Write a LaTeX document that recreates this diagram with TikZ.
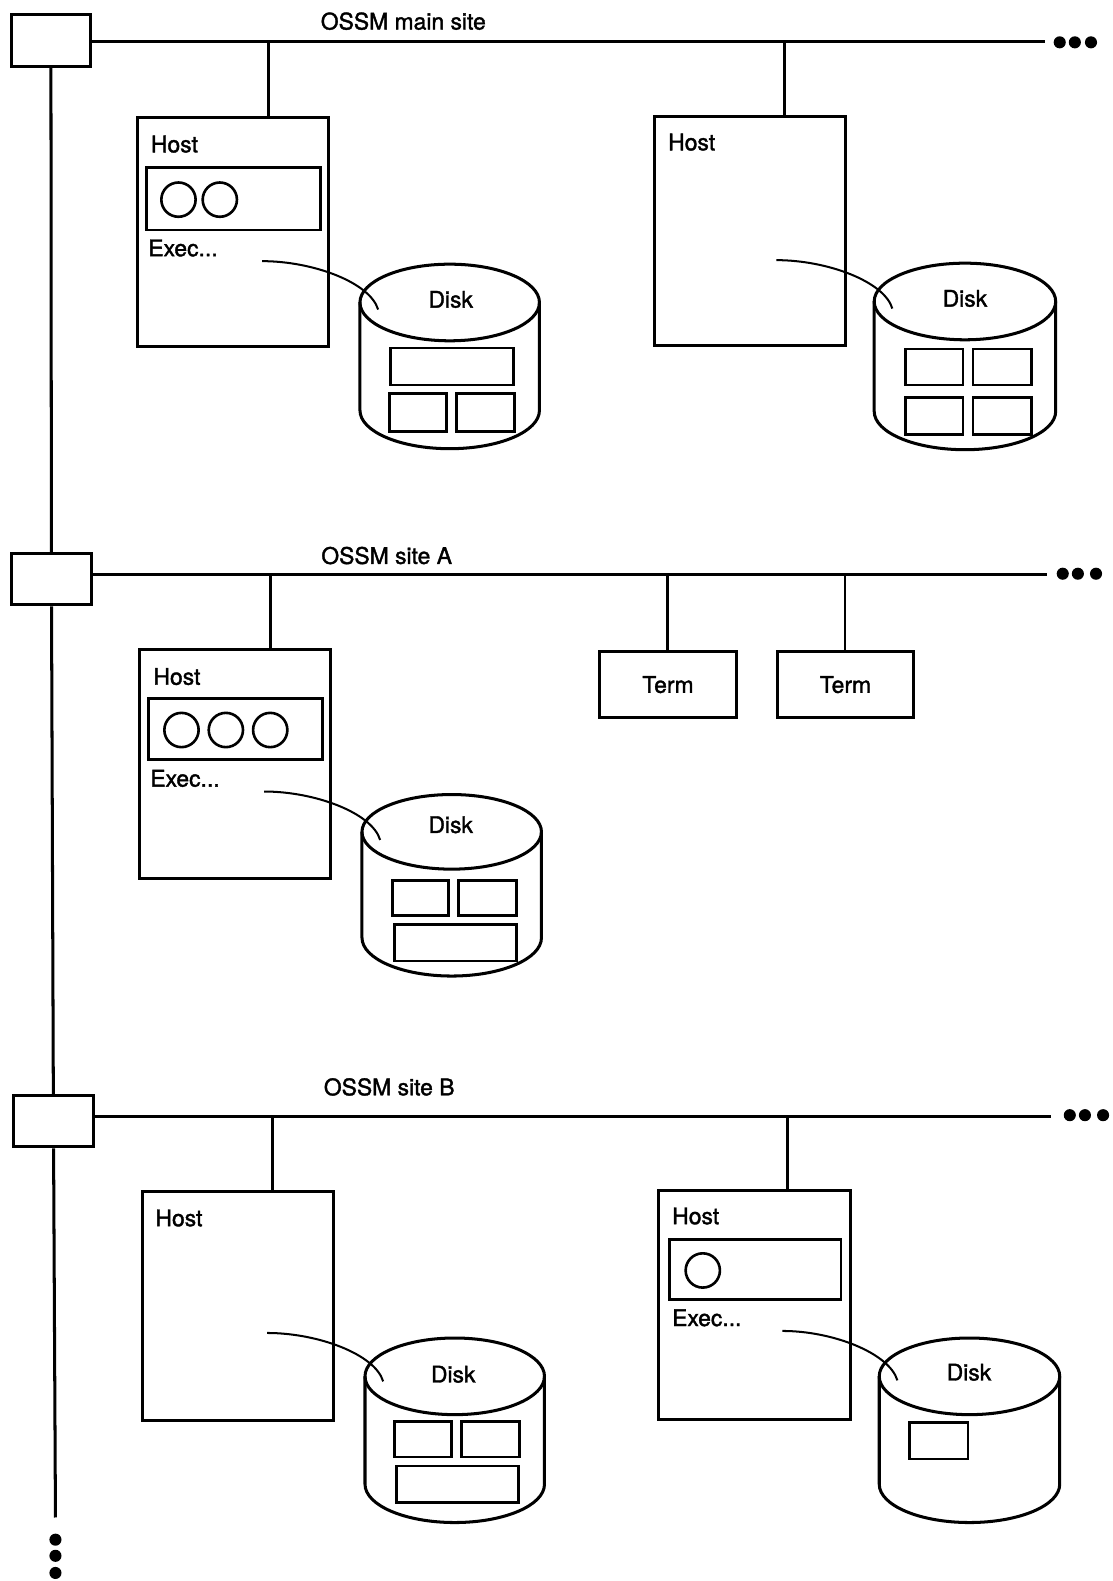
\documentclass[tikz,border=0pt]{standalone}
\usepackage{fontspec}
\setmainfont{TeX Gyre Heros}
\newfontfamily\lblfont{TeX Gyre Heros}[FakeBold=1.6]

\begin{document}
\begin{tikzpicture}[
    x=1pt, y=-1pt,
    lbl/.style={inner sep=0, font=\lblfont\fontsize{22.7}{27}\selectfont},
    junc/.style={draw, line width=3pt, minimum width=79pt, minimum height=51pt, inner sep=0},
    host/.style={draw, line width=3pt, minimum width=190pt, minimum height=227pt, inner sep=0},
    term/.style={draw, line width=3pt, minimum width=135pt, minimum height=66pt, inner sep=0, font=\lblfont\fontsize{22.7}{27}\selectfont},
    disk/.style={line width=3pt},
    dot/.style={circle, fill, inner sep=0, minimum size=12pt},
    bus/.style={line width=3pt},
    tap/.style={line width=2.6pt},
    link/.style={line width=2pt},
    part/.style={line width=2.6pt}
]
\useasboundingbox (0,0) rectangle (1103,1568);

% junction boxes and backbone
\node[junc] (jmain) at (50.5,40) {};
\node[junc] (jsiteA) at (51,574.5) {};
\node[junc] (jsiteB) at (53,1112) {};
\coordinate (bbend) at (55,1505);
\draw[bus] (jmain) -- (jsiteA);
\draw[bus] (jsiteA) -- (jsiteB);
\draw[bus] (jsiteB) -- (bbend);
\node[dot] (bbdot1) at (55,1527) {};
\node[dot] (bbdot2) at (55,1543) {};
\node[dot] (bbdot3) at (55,1560) {};

% OSSM main site
\node[lbl] (mainlbl) at (400,21) {OSSM main site};
\coordinate (busmain) at (1036,41);
\draw[bus] (busmain -| jmain.east) -- (busmain);
\node[dot] (mdot1) at (1051,42) {};
\node[dot] (mdot2) at (1066,42) {};
\node[dot] (mdot3) at (1082,42) {};

\node[host] (host1) at (231,230) {};
\node[lbl] (host1lbl) at (173,143) {Host};
\draw[part] (145,166) rectangle (318,228);
\draw[part] (177,198) circle[radius=17];
\draw[part] (218,198) circle[radius=17];
\node[lbl] (exec1) at (181.5,246) {Exec...};
\coordinate (tap1) at (266,41);
\draw[tap] (tap1) -- (tap1 |- host1.north);

\draw[disk] (357,300) -- (357,407) arc[start angle=180, end angle=0, x radius=89, y radius=38] -- (535,300);
\draw[disk] (446,300) ellipse[x radius=89, y radius=38];
\node[lbl] (disk1lbl) at (447,297) {Disk};
\draw[part] (387,345) rectangle (509,382);
\draw[part] (386,390) rectangle (443,428);
\draw[part] (453,390) rectangle (510,428);
\coordinate (link1a) at (260,259);
\coordinate (link1b) at (375,307);
\draw[link] (link1a) .. controls +(50,0) and +(-8,-27) .. (link1b);

\node[host] (host2) at (744,229.5) {};
\node[lbl] (host2lbl) at (686,141) {Host};
\coordinate (tap2) at (778,41);
\draw[tap] (tap2) -- (tap2 |- host2.north);

\draw[disk] (867,299) -- (867,408) arc[start angle=180, end angle=0, x radius=90, y radius=38] -- (1047,299);
\draw[disk] (957,299) ellipse[x radius=90, y radius=38];
\node[lbl] (disk2lbl) at (957,296) {Disk};
\draw[part] (898,346) rectangle (955,382);
\draw[part] (965,346) rectangle (1023,382);
\draw[part] (898,394) rectangle (955,431);
\draw[part] (965,394) rectangle (1023,431);
\coordinate (link2a) at (770,258);
\coordinate (link2b) at (885,306);
\draw[link] (link2a) .. controls +(50,0) and +(-8,-27) .. (link2b);

% OSSM site A
\node[lbl] (sitealbl) at (383.5,551) {OSSM site A};
\coordinate (busA) at (1038,570);
\draw[bus] (busA -| jsiteA.east) -- (busA);
\node[dot] (adot1) at (1054,569) {};
\node[dot] (adot2) at (1069,569) {};
\node[dot] (adot3) at (1087,569) {};

\node[host] (host3) at (233,758) {};
\node[lbl] (host3lbl) at (175.5,671) {Host};
\draw[part] (147,693) rectangle (320,753);
\draw[part] (180,724) circle[radius=17];
\draw[part] (224,724) circle[radius=17];
\draw[part] (268,724) circle[radius=17];
\node[lbl] (exec3) at (183.5,772) {Exec...};
\coordinate (tap3) at (268,570);
\draw[tap] (tap3) -- (tap3 |- host3.north);

\draw[disk] (359,825) -- (359,930) arc[start angle=180, end angle=0, x radius=89, y radius=38] -- (537,825);
\draw[disk] (448,825) ellipse[x radius=89, y radius=37];
\node[lbl] (disk3lbl) at (447,818) {Disk};
\draw[part] (389,873) rectangle (445,908);
\draw[part] (455,873) rectangle (512,908);
\draw[part] (391,917) rectangle (512,953);
\coordinate (link3a) at (262,785);
\coordinate (link3b) at (377,833);
\draw[link] (link3a) .. controls +(50,0) and +(-8,-27) .. (link3b);

\node[term] (term1) at (662.5,679) {Term};
\node[term] (term2) at (838.5,679) {Term};
\coordinate (tap4) at (662,570);
\coordinate (tap5) at (838,570);
\draw[tap] (tap4) -- (tap4 |- term1.north);
\draw[tap] (tap5) -- (tap5 |- term2.north);

% OSSM site B
\node[lbl] (siteblbl) at (386,1078) {OSSM site B};
\coordinate (busB) at (1042,1107);
\draw[bus] (busB -| jsiteB.east) -- (busB);
\node[dot] (bdot1) at (1061,1106) {};
\node[dot] (bdot2) at (1076,1106) {};
\node[dot] (bdot3) at (1094,1106) {};

\node[host] (host4) at (236,1295) {};
\node[lbl] (host4lbl) at (177.5,1208) {Host};
\coordinate (tap6) at (270,1107);
\draw[tap] (tap6) -- (tap6 |- host4.north);

\draw[disk] (362,1365) -- (362,1472) arc[start angle=180, end angle=0, x radius=89, y radius=38] -- (540,1365);
\draw[disk] (451,1365) ellipse[x radius=89, y radius=38];
\node[lbl] (disk4lbl) at (449.5,1363) {Disk};
\draw[part] (391,1410) rectangle (448,1445);
\draw[part] (458,1410) rectangle (515,1445);
\draw[part] (393,1454) rectangle (514,1490);
\coordinate (link4a) at (265,1322);
\coordinate (link4b) at (380,1370);
\draw[link] (link4a) .. controls +(50,0) and +(-8,-27) .. (link4b);

\node[host] (host5) at (748.5,1294.5) {};
\node[lbl] (host5lbl) at (690,1206) {Host};
\draw[part] (664,1229) rectangle (834,1289);
\draw[part] (697,1260) circle[radius=17];
\node[lbl] (exec5) at (701,1307) {Exec...};
\coordinate (tap7) at (781,1107);
\draw[tap] (tap7) -- (tap7 |- host5.north);

\draw[disk] (872,1365) -- (872,1472) arc[start angle=180, end angle=0, x radius=89.5, y radius=38] -- (1051,1365);
\draw[disk] (961.5,1365) ellipse[x radius=89.5, y radius=38];
\node[lbl] (disk5lbl) at (961,1361) {Disk};
\draw[part] (902,1411) rectangle (960,1447);
\coordinate (link5a) at (776,1320);
\coordinate (link5b) at (890,1369);
\draw[link] (link5a) .. controls +(50,0) and +(-8,-27) .. (link5b);

\end{tikzpicture}
\end{document}
